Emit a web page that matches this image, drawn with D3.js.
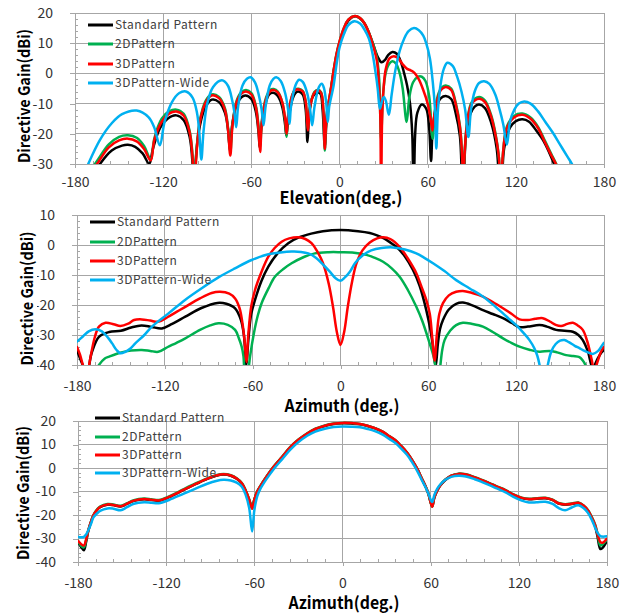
<!DOCTYPE html>
<html>
<head>
<meta charset="utf-8">
<script src="https://cdn.jsdelivr.net/npm/d3@7"></script>
<style>
  html, body { margin: 0; padding: 0; background: #fff; }
  svg { display: block; }
  text { font-family: "Noto Sans CJK JP", "Noto Sans", sans-serif; }
</style>
</head>
<body>
<svg id="chart" width="630" height="613"></svg>
<script>
// ---------- data ----------
const seriesNames = ["Standard Pattern", "2DPattern", "3DPattern", "3DPattern-Wide"];
const seriesColors = ["#000000", "#00b050", "#ff0000", "#00b0f0"];
const xTickValues = [-180, -120, -60, 0, 60, 120, 180];

// Elevation cut: [deg, dBi]
const elevStandard = [[-170,-36],[-163,-30],[-155,-25.5],[-148,-23.9],[-144,-23.6],[-139,-24.3],[-134,-26.5],[-129.5,-29.9],
  [-127,-25],[-122,-18],[-117,-15],[-111,-13.9],[-106,-15.5],[-102,-21],[-100,-30],[-99,-45],[-98,-30],[-96,-20],[-92,-12],
  [-87,-8.7],[-82,-9.5],[-78,-13],[-76,-18],[-74.5,-25.5],[-73,-17],[-70,-10.5],[-67,-8],[-64,-7.3],[-60,-8.5],[-57,-12.5],
  [-55,-20],[-54.3,-24.5],[-53,-17],[-50,-9.5],[-48,-7],[-45,-6.4],[-42,-7.5],[-39,-11],[-37,-17],[-36.2,-20.5],[-35,-16],
  [-32,-8.5],[-30,-6.5],[-28,-6],[-25,-7],[-23,-12],[-21.8,-22.7],[-20.5,-13],[-18,-7.5],[-15,-6.3],[-13,-6.7],[-11.5,-12],
  [-10,-24],[-8.5,-14],[-6,-6],[-4,0.5],[-2,6],[0,10],[3,14.5],[6,17.5],[10.5,18.9],[14,18.2],[17,16.5],[20,13.5],[23,9.5],
  [26,5.5],[28.6,3.7],[31,4.5],[33,6],[36,7.1],[39,6.5],[42,3.5],[44,0],[46,-4],[48,-10],[49.5,-20],[50.5,-45],[51.5,-20],
  [53,-13],[56,-10.3],[59,-11.7],[61,-18],[62.3,-29],[63.5,-18],[66,-11],[69,-8.2],[72.3,-7.5],[76,-8.5],[79,-13],[82,-21],
  [84,-45],[86,-21],[89,-13.5],[92,-11],[95,-10.3],[99,-11.5],[103,-16],[107,-25],[109.8,-45],[112,-25],[116,-18],
  [120,-15.8],[124.5,-15.2],[129,-16],[134,-19],[139,-22.5],[143,-26.5],[146,-30],[150,-35]];

const elev2D = [[-172,-34],[-165,-29],[-157,-23.5],[-150,-21],[-144,-20.5],[-138,-21.3],[-133,-24],[-128.5,-28.5],
  [-126,-21.5],[-121,-15],[-116,-12.6],[-111,-12],[-106,-13.4],[-102,-19],[-100,-27],[-98.8,-40],[-97.5,-27],[-95,-15.5],
  [-91,-9],[-87,-7],[-82,-7.8],[-78,-11.5],[-76,-17.5],[-74.3,-26],[-72.8,-16.5],[-70,-9],[-67,-6.3],[-63.6,-5.5],[-60,-6.5],
  [-57,-10.5],[-55.2,-17],[-54,-24.5],[-52.8,-15.5],[-50,-8],[-47,-5.4],[-44.8,-5.2],[-42,-6],[-39,-9.5],[-37,-15.5],
  [-36,-21],[-35,-14.5],[-32,-7],[-30,-5.3],[-27.7,-5.1],[-25,-5.8],[-23,-9.3],[-21.5,-18.5],[-20,-10.8],[-17,-6.1],
  [-14.5,-5.4],[-12.5,-6.3],[-11,-12],[-10,-25.5],[-8.8,-14],[-6,-5.5],[-4,1],[-2,6.5],[0,10.5],[3,15],[6,17.8],[10.5,19],
  [14,18.3],[17,16.6],[20,13.5],[23,9.5],[25.5,5],[27,-2],[28.3,-22],[29.5,-8],[31,-1],[33,2.5],[36,4],[38.5,3.2],[41,0],
  [43,-5],[45.7,-16.1],[47.5,-8],[50,-3],[53,-1.2],[56,-1.1],[58.5,-2.5],[61,-7.5],[63.4,-21.6],[65,-12],[67.5,-6.5],
  [70,-4.5],[72.3,-4],[76,-5],[79,-9.5],[82,-17.5],[83.5,-28],[84.2,-45],[85,-28],[87,-15.5],[90,-9.5],[95,-7.8],[99,-9],
  [103,-13.5],[106,-19.5],[108.5,-28],[109.8,-45],[111,-28],[114,-17.5],[119,-14],[124.5,-13.3],[130,-14.6],[135,-17.6],
  [140,-22.5],[144,-26.5],[148,-30.5],[151,-34]];

const elev3D = [[-172,-35],[-165,-30],[-157,-24.5],[-150,-22.2],[-144,-21.6],[-138,-22.5],[-133,-25],[-128.5,-28.8],
  [-126,-22],[-121,-16],[-116,-13.3],[-111,-12.6],[-106,-14],[-102,-19.5],[-100,-28],[-98.8,-45],[-97.5,-28],[-95,-16],
  [-91,-9.5],[-87,-7.3],[-82,-8.2],[-78,-12],[-76,-18],[-74.3,-27.2],[-72.8,-17],[-70,-9.5],[-67,-6.8],[-63.6,-6],[-60,-7],
  [-57,-11],[-55.2,-18],[-54,-26],[-52.8,-16],[-50,-8.5],[-47,-5.8],[-44.8,-5.5],[-42,-6.3],[-39,-9.5],[-37,-15],[-36,-20],
  [-35,-14],[-32,-7],[-30,-5.5],[-27.7,-5.3],[-25,-6],[-23,-9.5],[-21.5,-18.9],[-20,-11],[-17,-6.3],[-14.5,-5.6],
  [-12.5,-6.5],[-11,-12],[-10,-25],[-8.8,-14],[-6,-5.5],[-4,1],[-2,6.5],[0,10.5],[3,15],[6,17.8],[10.5,19],[14,18.3],
  [17,16.6],[20,13.5],[23,9],[25.5,4],[27,-5],[27.8,-15],[28.3,-45],[29,-15],[30,-5],[31.5,1.5],[34,5],[37,5.7],[40,5],
  [43,3],[46,1.5],[48.4,1],[51,0.2],[54,-2],[57,-5.5],[60,-10],[62,-15],[63.2,-18.9],[64.5,-14],[67,-8],[69,-5.5],
  [72.3,-4.5],[76,-5.5],[79,-10],[82,-18],[83.5,-28],[84.2,-45],[85,-28],[87,-16],[90,-10],[95,-8.4],[99,-9.5],[103,-14],
  [106,-20],[108.5,-28],[109.8,-45],[111,-28],[114,-18],[119,-14.5],[124.5,-13.7],[130,-15],[135,-18],[140,-23],[144,-27],
  [147.3,-30],[151,-35]];

const elevWide = [[-176,-36],[-171,-30],[-163,-22],[-155,-16.5],[-148,-13.5],[-138,-12.3],[-130,-14.5],[-126,-18],
  [-122.3,-23.8],[-119,-16],[-114,-9.5],[-109,-6.5],[-104.5,-6],[-100,-8],[-97,-13],[-95.5,-19],[-94,-28.5],[-92.5,-19],
  [-90,-10],[-86,-4.5],[-80,-2.3],[-76,-4],[-73,-9],[-71.5,-13],[-70.3,-17.8],[-69,-11],[-66,-4],[-63,-1.8],[-60.5,-1.3],
  [-57.5,-3],[-55,-7],[-53,-12],[-51.7,-17.2],[-50.3,-11],[-47.5,-4],[-45,-1.8],[-43,-1.3],[-40,-2.5],[-37,-6.5],[-35,-12],
  [-34,-16.7],[-33,-11],[-30,-4],[-27.5,-2.1],[-25,-2.8],[-22,-6.5],[-20,-12],[-18.6,-17.2],[-17,-11],[-14,-4.5],
  [-12,-3.4],[-10.5,-5],[-9,-10],[-8,-16.1],[-7,-11],[-5.5,-7.5],[-4,-4],[-2,3],[0,8.5],[3,13],[6,16],[10.2,17.3],
  [14,16.5],[17,14.5],[20,11.5],[22.5,6.5],[24.5,0.4],[26,-5],[27.5,-11.7],[29,-9],[30.2,-7.8],[31.5,-9],[33.6,-13.7],
  [35.5,-7],[38,1],[41,7.5],[44,11.5],[47,14],[50.7,15],[54,14.3],[57,12.5],[59,10],[61.5,5],[63.5,-3],[65,-12],
  [65.9,-24.9],[67,-12],[69,-3],[71,1.5],[73.4,3.5],[77,2.5],[80,-1],[83,-6],[85.5,-12],[87.7,-21.1],[89.5,-12],[92,-6],
  [95,-3.2],[98.4,-2.6],[102,-3.5],[106,-7],[109,-12],[111.5,-17],[113.9,-23.6],[116,-16],[119,-12],[122,-10],
  [125.7,-9.3],[130,-10],[135,-12.5],[140,-16],[145,-19.5],[150,-23.5],[155,-27.5],[158.2,-30],[162,-34]];

// Azimuth cut (upper): [deg, dBi]
const azStandard = [[-180,-35],[-176,-40],[-173,-42],[-170,-36],[-165,-30.6],[-158,-29],[-150,-28.6],[-143,-27.5],
  [-136,-26.8],[-129,-27.3],[-122,-27.8],[-115,-26.3],[-106,-23.9],[-95,-21],[-84,-19.3],[-78,-19.6],[-72,-21.1],
  [-68,-25],[-66,-30],[-64.3,-40],[-63,-32],[-61,-23],[-58.4,-18.3],[-54,-12],[-49.3,-7.2],[-43,-2.8],[-35.7,0.6],
  [-28,2.6],[-20,3.8],[-12,4.6],[0,5],[12,4.6],[20,4],[24.5,3.3],[30,2.1],[35,0.5],[38.2,-0.6],[44,-3.8],[49.5,-8.3],
  [54,-13.5],[58.6,-21.7],[61.5,-28.5],[63.5,-35],[65,-40.5],[66.5,-33],[68,-28],[70,-25],[74,-21.5],[79,-19.6],
  [83.6,-19.2],[90,-20.1],[97.3,-21.7],[104,-23],[111,-24.4],[117,-26],[122.3,-27.4],[128,-27.2],[136,-26.7],[141,-27.2],
  [147.3,-28.3],[153,-28.6],[158.7,-28.9],[162.5,-30],[165.5,-31.7],[169,-35.5],[172.3,-41],[175.5,-38],[178,-36],[180,-35]];

const az2D = [[-167,-42],[-165,-40],[-161,-37.8],[-158,-37.2],[-150.4,-35.9],[-143,-35.2],[-135.7,-35],[-130,-35.3],
  [-124.5,-35.6],[-118,-34],[-112,-32.6],[-106,-31.1],[-96,-28.3],[-89,-26.8],[-83.4,-26.1],[-77,-26.6],[-72,-28.3],
  [-69.5,-31],[-67.5,-33.9],[-66.3,-37],[-65.5,-42],[-64,-44],[-62.5,-40],[-61.8,-37.2],[-59,-29],[-56.5,-23.5],
  [-53.9,-19.4],[-49,-14.3],[-44.8,-10.6],[-39,-8],[-33.4,-6.1],[-25,-4],[-17.5,-2.8],[-8,-2.4],[0,-2.4],[8,-2.5],
  [17.7,-3.3],[23,-4.2],[29.1,-5.6],[35,-7.8],[40.4,-10.6],[46,-15],[51.8,-20.6],[56,-25.5],[60.9,-32.8],[63.5,-37],
  [65,-41],[66.6,-46],[68,-41],[69.5,-35],[71.1,-31.7],[75,-28.5],[79,-26.7],[83.6,-25.9],[90,-26.3],[97.3,-27.2],
  [104,-29],[111,-31.1],[117,-32.7],[122.3,-33.9],[129,-34.9],[136,-35.6],[142.7,-35.3],[148,-35.8],[154.1,-36.7],
  [159,-37],[163.2,-37.4],[165.5,-38.5],[167.3,-40],[169,-43]];

const az3D = [[-180,-34],[-178,-36.5],[-176,-40],[-173.5,-44],[-171,-38],[-168,-31],[-165,-27.2],[-160.5,-25.9],
  [-155,-26.4],[-150.4,-27],[-145,-26.2],[-141,-25],[-135.7,-24.8],[-130,-25.2],[-124.5,-25.6],[-118,-24],[-112,-22.3],
  [-106,-20.6],[-96,-17.8],[-88,-16],[-82.3,-15.6],[-76,-16.2],[-72,-17.8],[-69,-21],[-67,-26],[-65.5,-32],[-64.3,-39],
  [-63,-30],[-61,-20.5],[-58.4,-15],[-54,-9],[-49.3,-3.9],[-45,-1],[-40.2,1.1],[-35,2.2],[-28.8,2.6],[-24,2],[-19.8,0.6],
  [-16.4,-1.7],[-12,-6],[-8,-13],[-5,-21],[-2.5,-29],[0,-33.3],[2.5,-29],[5,-20.5],[8,-12],[10.9,-6.1],[15,-1.8],
  [20,0.8],[25,2.2],[29.1,2.6],[34,2],[40.4,-0.6],[46,-4.5],[51.8,-9.4],[55,-13.5],[58.6,-18.3],[61,-23],[62.5,-30],
  [64.3,-38.5],[65.8,-30],[67.5,-23],[70,-19.4],[74,-16.8],[79,-15.6],[83.6,-15.3],[90,-16],[97.3,-17.2],[104,-19],
  [111,-21.1],[117,-23],[122.3,-24.8],[128,-25],[133,-24.6],[138.2,-24.4],[143,-25.5],[147,-26.6],[150.7,-27],
  [155,-26.3],[158.7,-25.9],[162,-26.8],[165.5,-28.3],[168.5,-32],[171.5,-38],[173.4,-42],[175.5,-39],[178,-35.5],
  [180,-33.9]];

const azWide = [[-180,-32.2],[-176,-30.5],[-172,-28.8],[-167.5,-28.1],[-163,-28.8],[-159,-30.8],[-156,-32.8],
  [-153,-35],[-150.4,-36.1],[-147,-35.6],[-143.5,-34.5],[-140.2,-32.8],[-134,-30],[-128.8,-27.2],[-117.5,-22.8],
  [-106.2,-18.3],[-94.8,-14.4],[-83.4,-10.8],[-72.1,-7.8],[-60.7,-5],[-49.3,-3.1],[-41,-2.5],[-33.4,-2.2],[-27,-2.3],
  [-22,-2.8],[-16.4,-4.4],[-11,-7],[-7.3,-8.9],[-3.5,-11],[0,-11.9],[3,-10.8],[6.4,-8.9],[10,-6],[15.5,-3.3],[21,-1.8],
  [28,-1],[35.9,-0.8],[44,-1.5],[51.8,-2.8],[57,-4.2],[63.2,-6.1],[71,-8.7],[79,-11.7],[88,-14.4],[97.3,-17.2],
  [104,-19.8],[111,-22.8],[116,-25],[120,-26.7],[125,-29.3],[129.1,-31.7],[132.5,-34.5],[134.5,-37],[136,-40],
  [138.8,-48],[141.6,-40],[144,-35.5],[147,-33],[150,-31.9],[153,-31.7],[156,-32.4],[160,-33.6],[163.2,-34.4],
  [167,-35.4],[172.3,-36.3],[176,-35.3],[178,-34],[180,-32.6]];

// Azimuth cut (lower): shared angle grid and one gain list per series
const az2Deg = [-180,-178,-176,-174.5,-173,-171,-169.5,-167,-165,-160,-156,-151,-147,-142,-135,-130,-125,-118,-108,
  -100,-92,-86,-81,-76,-72,-68.5,-66,-63.5,-61.5,-60,-58,-56,-51.5,-47,-41,-35.5,-30,-24,-18.5,-12,-6,0,6,12,17,22,27,
  32,36,40,44,47,51,54,56.5,58.5,61,62.5,64.5,66.5,70,74,79,84,90,95,100,105,111,116,122,127,132,138,143,147,151.5,156,
  160.5,164,167,170,172,173.5,175.5,177,180];
const az2Standard = [-31.5,-33.5,-35,-31.5,-26.8,-22.7,-20.2,-17.9,-16.7,-15.6,-15.8,-16.4,-15.4,-14,-13.3,-13.6,-13.9,
  -12.4,-9.3,-6.9,-4.6,-3.3,-2.8,-3.3,-4.6,-6.6,-9.6,-13.5,-17,-13.5,-10.1,-7.9,-3.6,0.3,4.7,8.8,11.9,14.6,16.5,17.9,
  18.7,19,18.9,18.6,17.9,16.9,15.5,13.4,11.7,9.2,6.4,3.7,-0.6,-4.6,-7.9,-11.1,-16.3,-12.6,-9.6,-7.5,-5.1,-3.4,-2.6,-2.9,
  -4.1,-5.3,-6.6,-8,-9.6,-11.3,-12.8,-13.3,-13.1,-12.9,-13.7,-15.1,-15.6,-15.3,-14.9,-16.1,-18.2,-21.8,-25,-29,-34.5,
  -34,-31];
const az22D = [-31,-33,-33.8,-30.8,-26.6,-22.5,-20,-17.6,-16.4,-15.3,-15.5,-16.1,-15.1,-13.7,-13,-13.3,-13.6,-12.1,-9,
  -6.6,-4.4,-3.1,-2.6,-3.1,-4.4,-6.4,-9.4,-13.4,-17.2,-13.4,-9.9,-7.7,-3.4,0.5,4.9,9,12.1,14.8,16.7,18.1,18.9,19.2,19.1,
  18.7,18,17,15.6,13.5,11.8,9.3,6.5,3.8,-0.5,-4.5,-7.8,-11,-16.4,-12.4,-9.4,-7.3,-4.9,-3.2,-2.4,-2.7,-3.9,-5.1,-6.4,
  -7.8,-9.4,-11.1,-12.6,-13.1,-12.9,-12.7,-13.5,-14.9,-15.4,-15.1,-14.7,-15.9,-17.9,-21.3,-24.2,-27.8,-33,-32.5,-30.5];
const az23D = [-31,-32.3,-33,-30.5,-26.5,-22.5,-20.1,-17.8,-16.6,-15.5,-15.7,-16.3,-15.3,-13.9,-13.2,-13.5,-13.8,
  -12.3,-9.2,-6.8,-4.5,-3.2,-2.7,-3.2,-4.5,-6.5,-9.5,-13.5,-17.3,-13.5,-10,-7.8,-3.5,0.4,4.8,8.9,12,14.7,16.6,18,18.8,
  19.2,19.1,18.7,18,17,15.6,13.5,11.8,9.3,6.5,3.8,-0.5,-4.5,-7.8,-11,-16.5,-12.5,-9.5,-7.4,-5,-3.3,-2.5,-2.8,-4,-5.2,
  -6.5,-7.9,-9.5,-11.2,-12.7,-13.2,-13,-12.8,-13.6,-15,-15.5,-15.2,-14.8,-16,-18,-21.5,-24.4,-28,-31.5,-31.8,-30];
const az2Wide = [-29.3,-29.5,-29.3,-28.3,-26.5,-23.5,-21,-19.3,-18.3,-17.2,-17.3,-18,-16.8,-15.2,-14.6,-14.8,-15,
  -13.6,-10.9,-8.8,-6.7,-5.5,-5,-5.3,-6.2,-8,-11.2,-17,-27,-18,-12,-9,-4.5,-0.6,3.8,7.8,11,13.7,15.5,16.7,17.4,17.7,
  17.6,17.3,16.6,15.7,14.3,12.3,10.6,8.2,5.5,2.8,-1.4,-5.2,-8.2,-11,-14.5,-11.5,-8.8,-7,-5,-3.8,-3.3,-3.6,-4.8,-6,
  -7.3,-8.7,-10.4,-12.2,-13.9,-14.7,-14.6,-14.4,-15.3,-17,-18,-16.8,-15.9,-17,-19,-22.5,-25.5,-27.5,-29,-29.2,-29];

// ---------- drawing ----------
const svg = d3.select("#chart");
svg.append("rect").attr("width", 630).attr("height", 613).attr("fill", "#fff");

const gridColor = "#a6a6a6";
const fontStack = '"Noto Sans CJK JP", "Noto Sans", sans-serif';

const panels = [
  { id: "elev", left: 75, right: 604, top: 13, bottom: 164, yDomain: [-30, 20],
    series: [elevStandard, elev2D, elev3D, elevWide],
    xTitle: "Elevation(deg.)", xTitleY: 204, xTitleLen: 123, xPad: 9,
    yTitleX: 24, yTitleCy: 96, yTitleMask: false,
    legX: 88, legY: [25, 44, 64, 83] },
  { id: "az1", left: 77, right: 604, top: 215, bottom: 365, yDomain: [-40, 10],
    series: [azStandard, az2D, az3D, azWide],
    xTitle: "Azimuth (deg.)", xTitleY: 412, xTitleLen: 115, xPad: 12,
    yTitleX: 27, yTitleCy: 298.5, yTitleMask: true,
    legX: 90, legY: [222, 242, 261, 280] },
  { id: "az2", left: 78, right: 607, top: 421, bottom: 562, yDomain: [-40, 20],
    series: [az2Standard, az22D, az23D, az2Wide].map(v => d3.zip(az2Deg, v)),
    xTitle: "Azimuth(deg.)", xTitleY: 609, xTitleLen: 111, xPad: 12,
    yTitleX: 23, yTitleCy: 493, yTitleMask: false,
    legX: 95, legY: [418, 437, 455, 473] }
];

panels.forEach(p => {
  const x = d3.scaleLinear().domain([-180, 180]).range([p.left, p.right]);
  const y = d3.scaleLinear().domain(p.yDomain).range([p.bottom, p.top]);
  const g = svg.append("g");

  const yMajor = d3.range(p.yDomain[0], p.yDomain[1] + 0.01, 10);
  const yMinor = d3.range(p.yDomain[0], p.yDomain[1] + 0.01, 2).filter(v => v % 10 !== 0);
  const xMinor = d3.range(-180, 180.01, 12).filter(v => v % 60 !== 0);

  // gridlines
  g.append("g").selectAll("line").data(yMajor).join("line")
    .attr("x1", p.left).attr("x2", p.right)
    .attr("y1", d => y(d)).attr("y2", d => y(d))
    .attr("stroke", gridColor).attr("stroke-width", 1).attr("shape-rendering", "crispEdges");
  g.append("g").selectAll("line").data(xTickValues).join("line")
    .attr("x1", d => x(d)).attr("x2", d => x(d))
    .attr("y1", p.top).attr("y2", p.bottom)
    .attr("stroke", gridColor).attr("stroke-width", 1).attr("shape-rendering", "crispEdges");

  // minor ticks (inside)
  const yMinorAxis = g.append("g").attr("transform", `translate(${p.left},0)`)
    .call(d3.axisLeft(y).tickValues(yMinor).tickSize(-3).tickFormat(""));
  const xMinorAxis = g.append("g").attr("transform", `translate(0,${p.bottom})`)
    .call(d3.axisBottom(x).tickValues(xMinor).tickSize(-3).tickFormat(""));
  [yMinorAxis, xMinorAxis].forEach(a => {
    a.select(".domain").remove();
    a.selectAll("line").attr("stroke", gridColor).attr("shape-rendering", "crispEdges");
  });

  // major axes with labels
  const yAxis = g.append("g").attr("transform", `translate(${p.left},0)`)
    .call(d3.axisLeft(y).tickValues(yMajor).tickSize(5).tickSizeOuter(0).tickPadding(17).tickFormat(d => String(d)));
  const xAxis = g.append("g").attr("transform", `translate(0,${p.bottom})`)
    .call(d3.axisBottom(x).tickValues(xTickValues).tickSize(4).tickSizeOuter(0).tickPadding(p.xPad).tickFormat(d => String(d)));
  [yAxis, xAxis].forEach(a => {
    a.select(".domain").attr("stroke", gridColor).attr("shape-rendering", "crispEdges");
    a.selectAll("line").attr("stroke", gridColor).attr("shape-rendering", "crispEdges");
    a.selectAll("text").attr("font-family", fontStack).attr("font-size", 14).attr("fill", "#333");
  });

  // plot frame
  g.append("rect").attr("x", p.left).attr("y", p.top)
    .attr("width", p.right - p.left).attr("height", p.bottom - p.top)
    .attr("fill", "none").attr("stroke", gridColor).attr("shape-rendering", "crispEdges");

  // series lines
  const clipId = "clip-" + p.id;
  svg.append("clipPath").attr("id", clipId).append("rect")
    .attr("x", p.left).attr("y", p.top - 2).attr("width", p.right - p.left).attr("height", p.bottom - p.top + 2);
  const line = d3.line().x(d => x(d[0])).y(d => y(d[1])).curve(d3.curveCatmullRom.alpha(0.5));
  const lines = g.append("g").attr("clip-path", `url(#${clipId})`);
  p.series.forEach((data, i) => {
    lines.append("path").datum(data).attr("d", line)
      .attr("fill", "none").attr("stroke", seriesColors[i]).attr("stroke-width", 2.5)
      .attr("stroke-linejoin", "round").attr("stroke-linecap", "round");
  });

  // legend
  const leg = g.append("g");
  seriesNames.forEach((name, i) => {
    leg.append("line").attr("x1", p.legX).attr("x2", p.legX + 25)
      .attr("y1", p.legY[i]).attr("y2", p.legY[i])
      .attr("stroke", seriesColors[i]).attr("stroke-width", 3);
    leg.append("text").attr("x", p.legX + 27).attr("y", p.legY[i]).attr("dy", "0.36em")
      .attr("font-family", fontStack).attr("font-size", 12).attr("letter-spacing", 0.5)
      .attr("fill", "#404040").text(name);
  });

  // axis titles
  g.append("text").attr("x", (p.left + p.right) / 2 + 1.5).attr("y", p.xTitleY)
    .attr("text-anchor", "middle").attr("font-family", fontStack).attr("font-weight", "bold")
    .attr("font-size", 17).attr("fill", "#000")
    .attr("textLength", p.xTitleLen).attr("lengthAdjust", "spacingAndGlyphs")
    .text(p.xTitle);

  const yt = g.append("g").attr("transform", `translate(${p.yTitleX},${p.yTitleCy}) rotate(-90)`);
  if (p.yTitleMask) {
    yt.append("rect").attr("x", -69).attr("y", -10).attr("width", 138).attr("height", 20).attr("fill", "#fff");
  }
  yt.append("text").attr("text-anchor", "middle").attr("dy", "0.36em")
    .attr("font-family", fontStack).attr("font-weight", "bold").attr("font-size", 16).attr("fill", "#000")
    .attr("textLength", 134).attr("lengthAdjust", "spacingAndGlyphs")
    .text("Directive Gain(dBi)");
});
</script>
</body>
</html>
